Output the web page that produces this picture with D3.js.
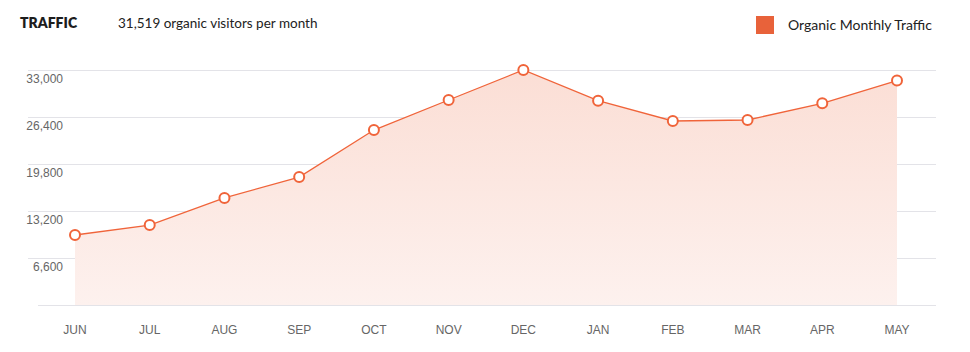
<!DOCTYPE html>
<html>
<head>
<meta charset="utf-8">
<script src="https://cdn.jsdelivr.net/npm/d3@7"></script>
<style>
	body{margin:0;background:#fff;}
	svg{display:block;}
</style>
</head>
<body>
<svg id="chart" width="970" height="352"></svg>
<script>
const months = ["JUN","JUL","AUG","SEP","OCT","NOV","DEC","JAN","FEB","MAR","APR","MAY"];
const traffic = [9830, 11230, 15030, 17970, 24570, 28790, 33000, 28690, 25840, 25980, 28320, 31519];
const yTicks = [0, 6600, 13200, 19800, 26400, 33000];
const lineColor = "#f0643a";

let svg = d3.select("#chart"),
	x = d3.scalePoint().domain(months).range([75, 897]),
	y = d3.scaleLinear().domain([0, 33000]).range([305, 70]);

// header
svg.append("text").attr("x", 20).attr("y", 28)
	.style("font", "800 14px Lato, sans-serif").style("fill", "#1d1d1d")
	.text("TRAFFIC");
svg.append("text").attr("x", 118).attr("y", 28)
	.style("font", "13.5px Lato, sans-serif").style("fill", "#222")
	.text("31,519 organic visitors per month");

// legend
svg.append("rect").attr("x", 756).attr("y", 16).attr("width", 18).attr("height", 18)
	.style("fill", "#e8623a");
svg.append("text").attr("x", 788).attr("y", 30)
	.style("font", "14px Lato, sans-serif").style("fill", "#222")
	.text("Organic Monthly Traffic");

// gradient
let grad = svg.append("defs").append("linearGradient")
	.attr("id", "fillGrad").attr("x1", 0).attr("y1", 0).attr("x2", 0).attr("y2", 1);
grad.append("stop").attr("offset", "0%").attr("stop-color", "#fbded5");
grad.append("stop").attr("offset", "100%").attr("stop-color", "#fdf1ee");

// grid
svg.append("g").selectAll("line").data(yTicks).enter().append("line")
	.attr("x1", d => d === 0 ? 38 : 28).attr("x2", 936)
	.attr("y1", d => Math.round(y(d)) + 0.5).attr("y2", d => Math.round(y(d)) + 0.5)
	.style("stroke", "#e3e3e8").style("stroke-width", 1);

// y labels
svg.append("g").selectAll("text").data(yTicks.filter(d => d > 0)).enter().append("text")
	.attr("x", 63).attr("y", d => y(d) + 13)
	.attr("text-anchor", "end")
	.style("font", "12px 'Liberation Sans', Arial, sans-serif").style("fill", "#666")
	.text(d => d3.format(",")(d));

// x labels
svg.append("g").selectAll("text").data(months).enter().append("text")
	.attr("x", d => x(d)).attr("y", 334)
	.attr("text-anchor", "middle")
	.style("font", "12px 'Liberation Sans', Arial, sans-serif").style("fill", "#666")
	.text(d => d);

// area + line
let area = d3.area().x((d, i) => x(months[i])).y0(y(0)).y1(d => y(d)),
	line = d3.line().x((d, i) => x(months[i])).y(d => y(d));

svg.append("path").datum(traffic).attr("d", area).style("fill", "url(#fillGrad)");
svg.append("path").datum(traffic).attr("d", line)
	.style("fill", "none").style("stroke", lineColor).style("stroke-width", 1.3);

svg.append("g").selectAll("circle").data(traffic).enter().append("circle")
	.attr("cx", (d, i) => x(months[i])).attr("cy", d => y(d)).attr("r", 5)
	.style("fill", "#fff").style("stroke", lineColor).style("stroke-width", 2);
</script>
</body>
</html>
